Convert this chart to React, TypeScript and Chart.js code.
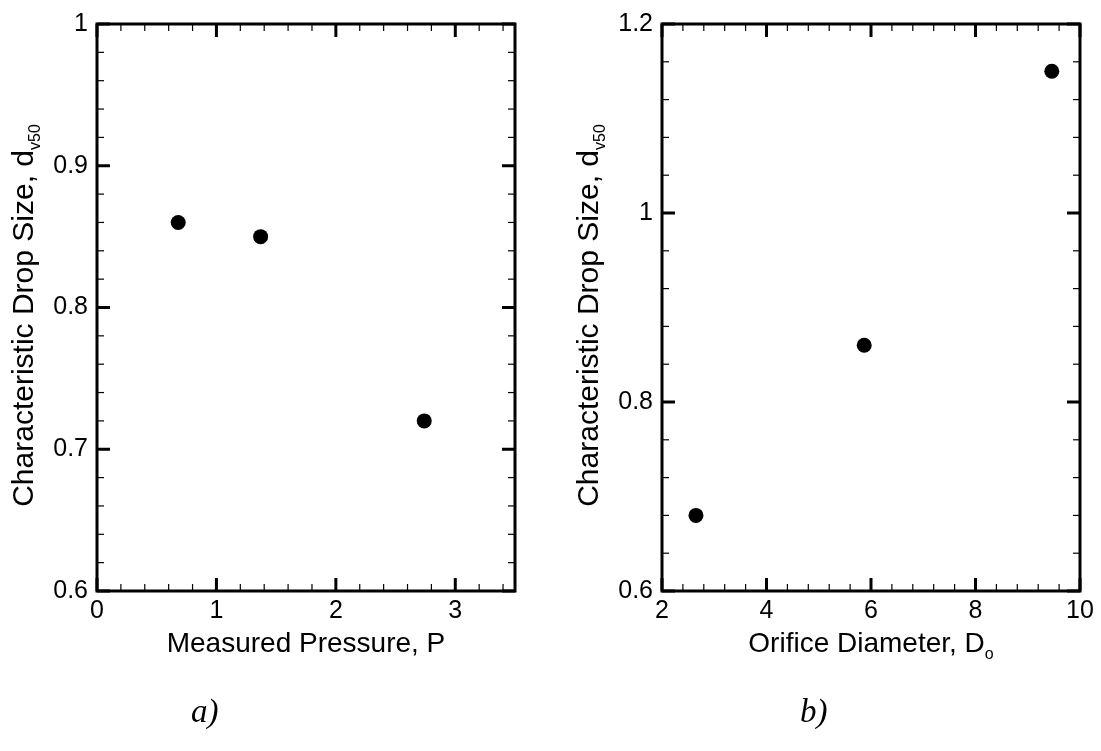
import React, { useEffect, useRef } from "react";
import { Chart, registerables } from "chart.js";

Chart.register(...registerables);

// ---- data ----
const pressureValues = [0.68, 1.37, 2.74];
const pressureDropSize = [0.86, 0.85, 0.72];
const diameterValues = [2.65, 5.87, 9.46];
const diameterDropSize = [0.68, 0.86, 1.15];

// ---- tick labels ----
const pressureTicks = [0, 1, 2, 3];
const pressureDropTicks = [0.6, 0.7, 0.8, 0.9, 1];
const diameterTicks = [2, 4, 6, 8, 10];
const diameterDropTicks = [0.6, 0.8, 1, 1.2];

const FONT = "'Liberation Sans', Arial, Helvetica, sans-serif";

function minorValues(min: number, max: number, step: number, majors: number[]) {
  const out: number[] = [];
  const n = Math.floor((max - min) / step + 1e-6);
  for (let i = 1; i <= n; i++) {
    const v = min + i * step;
    if (v > max - step / 10) continue;
    if (!majors.some((m) => Math.abs(m - v) < step / 10)) out.push(v);
  }
  return out;
}

const frameTicksPlugin = {
  id: "frameTicks",
  afterDraw(chart: any, _args: any, opts: any) {
    const { ctx, chartArea: a, scales } = chart;
    const xs = scales.x;
    const ys = scales.y;
    ctx.save();
    ctx.strokeStyle = "#000";
    ctx.lineCap = "butt";
    const line = (x1: number, y1: number, x2: number, y2: number) => {
      ctx.beginPath();
      ctx.moveTo(x1, y1);
      ctx.lineTo(x2, y2);
      ctx.stroke();
    };
    const drawX = (vals: number[], len: number, w: number) => {
      ctx.lineWidth = w;
      vals.forEach((v) => {
        const px = xs.getPixelForValue(v);
        line(px, a.bottom, px, a.bottom - len);
        line(px, a.top, px, a.top + len);
      });
    };
    const drawY = (vals: number[], len: number, w: number) => {
      ctx.lineWidth = w;
      vals.forEach((v) => {
        const py = ys.getPixelForValue(v);
        line(a.left, py, a.left + len, py);
        line(a.right, py, a.right - len, py);
      });
    };
    const xMin = minorValues(xs.min, xs.max, opts.xMinorStep, opts.xMajor);
    const yMin = minorValues(ys.min, ys.max, opts.yMinorStep, opts.yMajor);
    drawX(xMin, 7, 1.2);
    drawY(yMin, 7, 1.2);
    drawX(opts.xMajor, 13, 3);
    drawY(opts.yMajor, 13, 3);
    ctx.lineWidth = 3;
    ctx.strokeRect(a.left, a.top, a.right - a.left, a.bottom - a.top);

    // axis titles
    ctx.fillStyle = "#000";
    ctx.textBaseline = "alphabetic";
    ctx.textAlign = "left";
    const drawTitle = (main: string, sub: string, size: number, subSize: number) => {
      const mainFont = `${size}px ${FONT}`;
      const subFont = `${subSize}px ${FONT}`;
      ctx.font = mainFont;
      const w1 = ctx.measureText(main).width;
      ctx.font = subFont;
      const w2 = sub ? ctx.measureText(sub).width : 0;
      const total = w1 + w2;
      ctx.font = mainFont;
      ctx.fillText(main, -total / 2, 0);
      if (sub) {
        ctx.font = subFont;
        ctx.fillText(sub, -total / 2 + w1, 7);
      }
    };
    // x title
    ctx.save();
    ctx.translate((a.left + a.right) / 2, a.bottom + 61);
    drawTitle(opts.xTitle, opts.xSub, 28, 16);
    ctx.restore();
    // y title
    ctx.save();
    ctx.translate(a.left - 64, (a.top + a.bottom) / 2 + 8);
    ctx.rotate(-Math.PI / 2);
    drawTitle(opts.yTitle, opts.ySub, 30, 16);
    ctx.restore();

    ctx.restore();
  },
};

type PanelProps = {
  left: number;
  width: number;
  axisWidth: number;
  padRight: number;
  xs: number[];
  ys: number[];
  xTicks: number[];
  yTicks: number[];
  xMax: number;
  xMinorStep: number;
  yMinorStep: number;
  xTitle: string;
  xSub: string;
  yTitle: string;
  ySub: string;
};

function Panel(p: PanelProps) {
  const ref = useRef<HTMLCanvasElement | null>(null);
  useEffect(() => {
    if (!ref.current) return;
    const chart = new Chart(ref.current, {
      type: "scatter",
      data: {
        datasets: [
          {
            data: p.xs.map((x, i) => ({ x, y: p.ys[i] })),
            backgroundColor: "#000",
            borderColor: "#000",
            borderWidth: 0,
            pointRadius: 7.5,
            pointHoverRadius: 7.5,
            showLine: false,
          },
        ],
      },
      options: {
        responsive: false,
        animation: false,
        devicePixelRatio: 1,
        layout: { padding: { left: 0, top: 20, right: p.padRight, bottom: 0 } },
        plugins: {
          legend: { display: false },
          tooltip: { enabled: false },
          frameTicks: {
            xMajor: p.xTicks,
            yMajor: p.yTicks,
            xMinorStep: p.xMinorStep,
            yMinorStep: p.yMinorStep,
            xTitle: p.xTitle,
            xSub: p.xSub,
            yTitle: p.yTitle,
            ySub: p.ySub,
          },
        } as any,
        scales: {
          x: {
            type: "linear",
            min: p.xTicks[0],
            max: p.xMax,
            grid: { display: false, drawTicks: false },
            border: { display: false },
            ticks: {
              padding: 5,
              color: "#000",
              font: { family: FONT, size: 25 },
              maxRotation: 0,
              callback: (v: any) => String(v),
            },
            afterBuildTicks: (s: any) => {
              s.ticks = p.xTicks.map((v) => ({ value: v }));
            },
            afterFit: (s: any) => {
              s.height = 160;
            },
          },
          y: {
            type: "linear",
            min: p.yTicks[0],
            max: p.yTicks[p.yTicks.length - 1],
            grid: { display: false, drawTicks: false },
            border: { display: false },
            ticks: {
              padding: 9,
              color: "#000",
              font: { family: FONT, size: 25 },
              callback: (v: any) => String(v),
            },
            afterBuildTicks: (s: any) => {
              s.ticks = p.yTicks.map((v) => ({ value: v }));
            },
            afterFit: (s: any) => {
              s.width = p.axisWidth;
            },
          },
        },
      },
      plugins: [frameTicksPlugin],
    });
    return () => chart.destroy();
  }, []);
  return (
    <canvas
      ref={ref}
      width={p.width}
      height={751}
      style={{ position: "absolute", left: p.left, top: 0, width: p.width, height: 751 }}
    />
  );
}

const captionStyle: React.CSSProperties = {
  position: "absolute",
  top: 691,
  fontFamily: "'Liberation Serif', 'Times New Roman', serif",
  fontStyle: "italic",
  fontSize: 33,
  lineHeight: "40px",
};

export default function App() {
  return (
    <div
      style={{
        position: "absolute",
        left: 0,
        top: 0,
        width: 1101,
        height: 751,
        background: "#fff",
        overflow: "hidden",
      }}
    >
      <Panel
        left={0}
        width={550}
        axisWidth={97}
        padRight={35}
        xs={pressureValues}
        ys={pressureDropSize}
        xTicks={pressureTicks}
        yTicks={pressureDropTicks}
        xMax={3.5}
        xMinorStep={0.2}
        yMinorStep={0.02}
        xTitle="Measured Pressure, P"
        xSub=""
        yTitle="Characteristic Drop Size, d"
        ySub="v50"
      />
      <Panel
        left={550}
        width={551}
        axisWidth={112}
        padRight={21}
        xs={diameterValues}
        ys={diameterDropSize}
        xTicks={diameterTicks}
        yTicks={diameterDropTicks}
        xMax={10}
        xMinorStep={0.4}
        yMinorStep={0.04}
        xTitle="Orifice Diameter, D"
        xSub="o"
        yTitle="Characteristic Drop Size, d"
        ySub="v50"
      />
      <div style={{ ...captionStyle, left: 191 }}>a)</div>
      <div style={{ ...captionStyle, left: 800 }}>b)</div>
    </div>
  );
}
